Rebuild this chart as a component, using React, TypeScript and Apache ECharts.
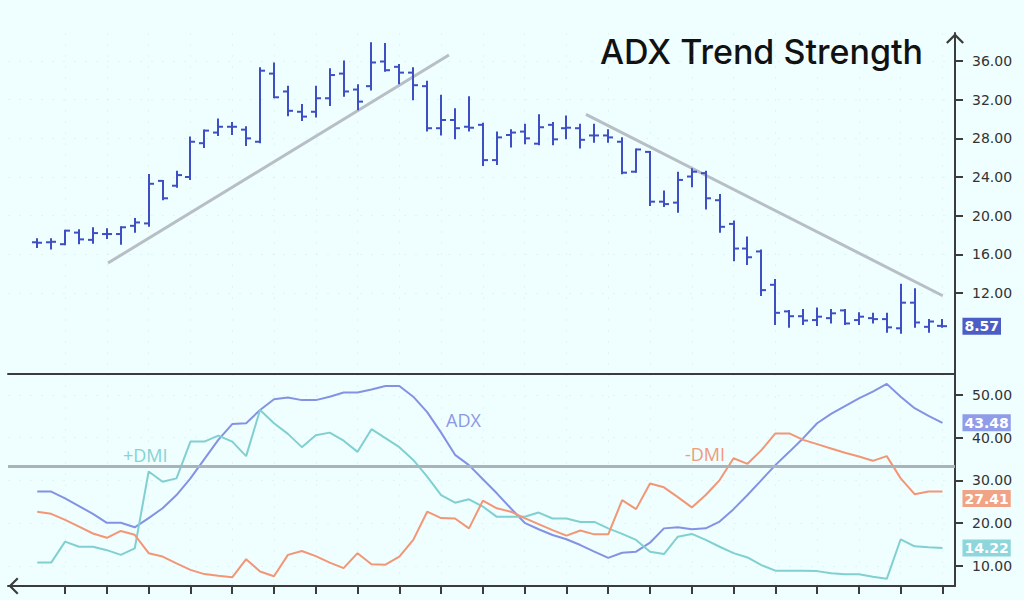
import React, { useEffect, useRef } from 'react';
import * as echarts from 'echarts';

// ---- Price bars (OHLC), one per session ----
const OPEN = [17.25, 17.25, 17.05, 18.25, 17.5, 18.1, 18.1, 18.95, 19.2, 23.6,
  23.1, 24.0, 27.5, 28.6, 29.2, 28.9, 27.65, 34.7, 32.85, 30.75,
  30.75, 32.15, 34.7, 33.05, 33.4, 35.95, 35.4, 34.8, 33.4, 29.05,
  29.9, 29.2, 29.4, 25.75, 28.35, 28.7, 27.45, 29.4, 29.05, 29.05,
  28.3, 28.3, 27.65, 24.55, 26.6, 21.45, 21.35, 24.05, 24.4, 21.6,
  19.15, 16.6, 16.3, 12.85, 10.1, 9.6, 9.2, 9.4, 10.2, 9.2,
  9.4, 9.3, 8.35, 11.0, 8.5, 8.6];
const HIGH = [17.55, 17.55, 18.45, 18.5, 18.7, 18.6, 18.8, 19.65, 24.2, 23.6,
  24.55, 28.1, 28.8, 29.95, 29.6, 29.15, 35.25, 35.75, 33.35, 31.45,
  33.35, 35.15, 35.95, 33.5, 37.85, 37.75, 35.6, 35.25, 33.85, 32.4,
  31.0, 32.25, 29.5, 28.6, 28.85, 29.4, 30.4, 29.6, 30.25, 29.4,
  29.4, 28.85, 28.0, 26.85, 26.6, 22.5, 24.45, 24.8, 24.55, 22.15,
  19.4, 17.75, 16.4, 13.35, 10.15, 10.25, 10.4, 10.25, 10.25, 9.9,
  9.85, 9.85, 12.85, 12.4, 9.2, 9.2];
const LOW = [16.75, 16.6, 17.05, 17.15, 17.2, 17.7, 17.1, 18.35, 18.95, 21.7,
  23.0, 23.8, 27.1, 28.35, 28.45, 27.3, 27.6, 32.25, 30.4, 29.9,
  30.25, 31.45, 32.4, 31.0, 33.05, 35.0, 33.7, 32.05, 28.8, 28.4,
  28.0, 28.8, 25.25, 25.35, 27.15, 27.5, 27.4, 27.4, 28.0, 27.05,
  27.65, 27.65, 24.4, 24.55, 21.1, 21.0, 20.4, 23.05, 20.75, 18.35,
  15.4, 15.0, 11.8, 8.8, 8.5, 8.8, 8.7, 8.95, 8.8, 8.8,
  8.95, 8.0, 7.9, 8.5, 8.0, 8.5];
const CLOSE = [17.2, 17.3, 18.45, 17.55, 18.2, 18.1, 18.8, 19.3, 23.3, 21.8,
  24.2, 27.65, 28.8, 29.2, 29.2, 28.0, 35.0, 32.25, 30.85, 30.25,
  32.15, 34.55, 32.85, 31.8, 35.85, 35.05, 34.8, 33.5, 29.05, 29.9,
  29.05, 29.1, 25.75, 28.1, 28.6, 28.0, 29.15, 27.9, 29.1, 27.85,
  28.3, 28.1, 24.45, 26.85, 21.45, 21.2, 23.7, 24.55, 21.8, 18.85,
  16.6, 15.7, 12.3, 9.95, 9.6, 9.15, 9.55, 9.9, 8.85, 9.55,
  9.3, 8.45, 11.0, 8.95, 9.05, 8.57];

// ---- Indicator lines ----
const ADX = [27.4, 27.4, 25.8, 24.0, 22.2, 20.1, 20.1, 19.05, 21.2, 23.5,
  26.6, 30.5, 35.0, 39.5, 43.2, 43.4, 46.5, 49.0, 49.4, 48.8,
  48.8, 49.6, 50.6, 50.6, 51.3, 52.1, 52.1, 49.6, 46.0, 41.2,
  36.0, 33.6, 30.3, 27.0, 23.5, 20.1, 18.6, 17.25, 16.25, 14.9,
  13.35, 11.9, 13.1, 13.35, 15.45, 18.8, 19.05, 18.6, 18.8, 20.4,
  23.3, 26.6, 30.1, 33.6, 36.7, 39.9, 43.4, 45.6, 47.4, 49.2,
  50.8, 52.6, 49.6, 46.9, 45.1, 43.48];
const PLUS_DMI = [10.8, 10.8, 15.7, 14.5, 14.5, 13.7, 12.6, 14.1, 32.1, 29.7,
  30.5, 39.1, 39.1, 40.5, 39.1, 35.7, 46.5, 43.4, 40.9, 37.8,
  40.6, 41.2, 39.3, 36.7, 42.0, 39.9, 37.8, 34.8, 30.9, 26.6,
  24.8, 25.6, 23.9, 21.5, 21.5, 21.5, 22.5, 21.1, 21.1, 20.3,
  20.3, 18.8, 17.5, 16.1, 13.35, 12.8, 16.85, 17.5, 16.1, 14.5,
  13.0, 12.0, 10.2, 8.9, 8.9, 8.9, 8.8, 8.3, 8.05, 8.05,
  7.5, 7.0, 16.25, 14.6, 14.4, 14.22];
const MINUS_DMI = [22.7, 22.2, 20.8, 19.2, 17.6, 16.6, 18.2, 17.3, 13.0, 12.2,
  10.6, 9.1, 8.1, 7.7, 7.35, 11.6, 8.7, 7.6, 12.6, 13.5,
  12.3, 10.8, 9.5, 13.0, 10.4, 10.3, 12.2, 16.1, 22.7, 21.2,
  21.1, 18.8, 25.3, 23.5, 22.7, 21.2, 19.8, 18.4, 17.1, 18.3,
  17.4, 17.4, 25.4, 23.3, 29.3, 28.4, 26.1, 23.7, 26.6, 30.1,
  35.2, 33.9, 37.1, 41.0, 41.0, 39.5, 38.5, 37.5, 36.5, 35.6,
  34.6, 35.7, 30.5, 26.8, 27.4, 27.41];

// ---- Trend lines and threshold ----
const TREND_UP = [[5.08, 15.1], [29.56, 36.62]];
const TREND_DOWN = [[39.4, 30.49], [65.02, 11.72]];
const THRESHOLD = 33.3;

// ---- Axis ticks ----
const X_TICKS = [2, 5, 8, 11, 14, 17, 20, 23, 26, 29, 32, 35, 38, 41, 44, 47, 50, 53, 56, 59, 62, 65];
const PRICE_TICKS = [12, 16, 20, 24, 28, 32, 36];
const DMI_TICKS = [10, 20, 30, 40, 50];

const BG = '#effefe';
const AXIS = '#3c3c3c';
const BAR = '#3d4fc2';
const ADX_C = '#8492e4';
const PDI_C = '#80d0d2';
const MDI_C = '#f29676';
const TREND_C = '#b7bec6';
const CHEVRON = 'path://M0,10 L10,0 L20,10 L18.2,11.8 L10,3.6 L1.8,11.8 Z';
const LABEL_FONT = 'DejaVu Sans';

const splitStyle = { show: true, lineStyle: { color: 'rgba(150,195,205,0.16)', type: [2, 9] as any, width: 1 } };

function boxLabel(bg: string, extra: any = {}) {
  return {
    show: true,
    distance: 20,
    formatter: (p: any) => Number(p.value[1]).toFixed(2),
    backgroundColor: bg,
    color: '#ffffff',
    fontFamily: LABEL_FONT,
    fontSize: 14,
    fontWeight: 'bold',
    lineHeight: 14,
    padding: [2, 2, 1, 2],
    ...extra,
  };
}

export default function App() {
  const ref = useRef<HTMLDivElement>(null);
  useEffect(() => {
    if (!ref.current) return;
    const chart = echarts.init(ref.current, null, { renderer: 'svg' });
    const ohlc = OPEN.map((o, i) => [i, o, HIGH[i], LOW[i], CLOSE[i]]);
    const toPts = (arr: number[]) => arr.map((v, i) => [i, v]);

    const option: any = {
      animation: false,
      backgroundColor: BG,
      grid: [
        { left: 8, right: 69, top: 33, height: 341 },
        { left: 8, right: 69, top: 374, height: 212 },
      ],
      xAxis: [
        {
          type: 'value', gridIndex: 0, min: -2.1, max: 65.9,
          axisLine: { show: true, onZero: false, lineStyle: { color: AXIS, width: 2 } },
          axisTick: { show: false, customValues: X_TICKS },
          axisLabel: { show: false, customValues: X_TICKS },
          splitLine: splitStyle,
        },
        {
          type: 'value', gridIndex: 1, min: -2.1, max: 65.9,
          axisLine: {
            show: true, onZero: false,
            symbol: [CHEVRON, 'none'], symbolSize: [17, 12], symbolOffset: [5.5, 0],
            lineStyle: { color: AXIS, width: 2 },
          },
          axisTick: { show: true, customValues: X_TICKS, length: 8, lineStyle: { color: AXIS, width: 2 } },
          axisLabel: { show: false, customValues: X_TICKS },
          splitLine: splitStyle,
        },
      ],
      yAxis: [
        {
          type: 'value', gridIndex: 0, position: 'right', min: 3.621, max: 38.9,
          axisLine: {
            show: true, onZero: false,
            symbol: ['none', CHEVRON], symbolSize: [18, 11], symbolOffset: [0, -5.5],
            lineStyle: { color: AXIS, width: 2 },
          },
          axisTick: { show: true, customValues: PRICE_TICKS, length: 8, lineStyle: { color: AXIS, width: 2 } },
          axisLabel: {
            customValues: PRICE_TICKS, margin: 17, color: '#333', fontSize: 14, fontFamily: LABEL_FONT,
            formatter: (v: number) => v.toFixed(2),
          },
          splitLine: splitStyle,
        },
        {
          type: 'value', gridIndex: 1, position: 'right', min: 5.32, max: 54.91,
          axisLine: { show: true, onZero: false, lineStyle: { color: AXIS, width: 2 } },
          axisTick: { show: true, customValues: DMI_TICKS, length: 8, lineStyle: { color: AXIS, width: 2 } },
          axisLabel: {
            customValues: DMI_TICKS, margin: 17, color: '#333', fontSize: 14, fontFamily: LABEL_FONT,
            formatter: (v: number) => v.toFixed(2),
          },
          splitLine: splitStyle,
        },
      ],
      series: [
        {
          name: 'Price', type: 'custom', xAxisIndex: 0, yAxisIndex: 0, z: 3,
          data: ohlc,
          encode: { x: 0, y: [1, 2, 3, 4] },
          renderItem: (params: any, api: any) => {
            const x = api.value(0);
            const o = api.coord([x, api.value(1)]);
            const h = api.coord([x, api.value(2)]);
            const l = api.coord([x, api.value(3)]);
            const c = api.coord([x, api.value(4)]);
            const px = Math.round(h[0]);
            const style = { stroke: BAR, lineWidth: 2 };
            return {
              type: 'group',
              children: [
                { type: 'line', shape: { x1: px, y1: h[1] - 1, x2: px, y2: l[1] + 1 }, style },
                { type: 'line', shape: { x1: px - 5, y1: o[1], x2: px, y2: o[1] }, style },
                { type: 'line', shape: { x1: px, y1: c[1], x2: px + 5, y2: c[1] }, style },
              ],
            };
          },
        },
        {
          name: 'Last', type: 'line', xAxisIndex: 0, yAxisIndex: 0, z: 4,
          data: toPts(CLOSE), showSymbol: false, symbol: 'none',
          lineStyle: { opacity: 0 },
          endLabel: boxLabel('#4b5ec6'),
          silent: true,
        },
        {
          name: 'Uptrend', type: 'line', xAxisIndex: 0, yAxisIndex: 0, z: 2,
          data: TREND_UP, symbol: 'none', lineStyle: { color: TREND_C, width: 3 }, silent: true,
        },
        {
          name: 'Downtrend', type: 'line', xAxisIndex: 0, yAxisIndex: 0, z: 2,
          data: TREND_DOWN, symbol: 'none', lineStyle: { color: TREND_C, width: 3 }, silent: true,
        },
        {
          name: 'Threshold', type: 'line', xAxisIndex: 1, yAxisIndex: 1, z: 1,
          data: [], silent: true,
          markLine: {
            silent: true, symbol: 'none', label: { show: false },
            lineStyle: { color: '#a9b3bb', width: 3, type: 'solid' },
            data: [{ yAxis: THRESHOLD }],
          },
        },
        {
          name: 'ADX', type: 'line', xAxisIndex: 1, yAxisIndex: 1, z: 3,
          data: toPts(ADX), symbol: 'none', lineStyle: { color: ADX_C, width: 2 },
          endLabel: boxLabel('#8f9ce9'),
        },
        {
          name: '+DMI', type: 'line', xAxisIndex: 1, yAxisIndex: 1, z: 3,
          data: toPts(PLUS_DMI), symbol: 'none', lineStyle: { color: PDI_C, width: 2 },
          endLabel: boxLabel('#8fd6db'),
        },
        {
          name: '-DMI', type: 'line', xAxisIndex: 1, yAxisIndex: 1, z: 3,
          data: toPts(MINUS_DMI), symbol: 'none', lineStyle: { color: MDI_C, width: 2 },
          endLabel: boxLabel('#f1a385', { offset: [0, 7] }),
        },
      ],
      graphic: [
        {
          type: 'text', x: 600, y: 51,
          style: { text: 'ADX Trend Strength', font: '500 34px Inter', fill: '#111', verticalAlign: 'middle' },
        },
        {
          type: 'text', x: 446, y: 420,
          style: { text: 'ADX', font: '18px "Open Sans"', fill: '#8a98e6', verticalAlign: 'middle' },
        },
        {
          type: 'text', x: 123, y: 455,
          style: { text: '+DMI', font: '18px "Open Sans"', fill: '#86d2d4', verticalAlign: 'middle' },
        },
        {
          type: 'text', x: 685, y: 454,
          style: { text: '-DMI', font: '18px "Open Sans"', fill: '#f29a7c', verticalAlign: 'middle' },
        },
      ],
    };
    chart.setOption(option);
    return () => chart.dispose();
  }, []);
  return (
    <div style={{ position: 'fixed', left: 0, top: 0, width: 1024, height: 600, background: BG }}>
      <div ref={ref} style={{ width: 1024, height: 600 }} />
    </div>
  );
}
